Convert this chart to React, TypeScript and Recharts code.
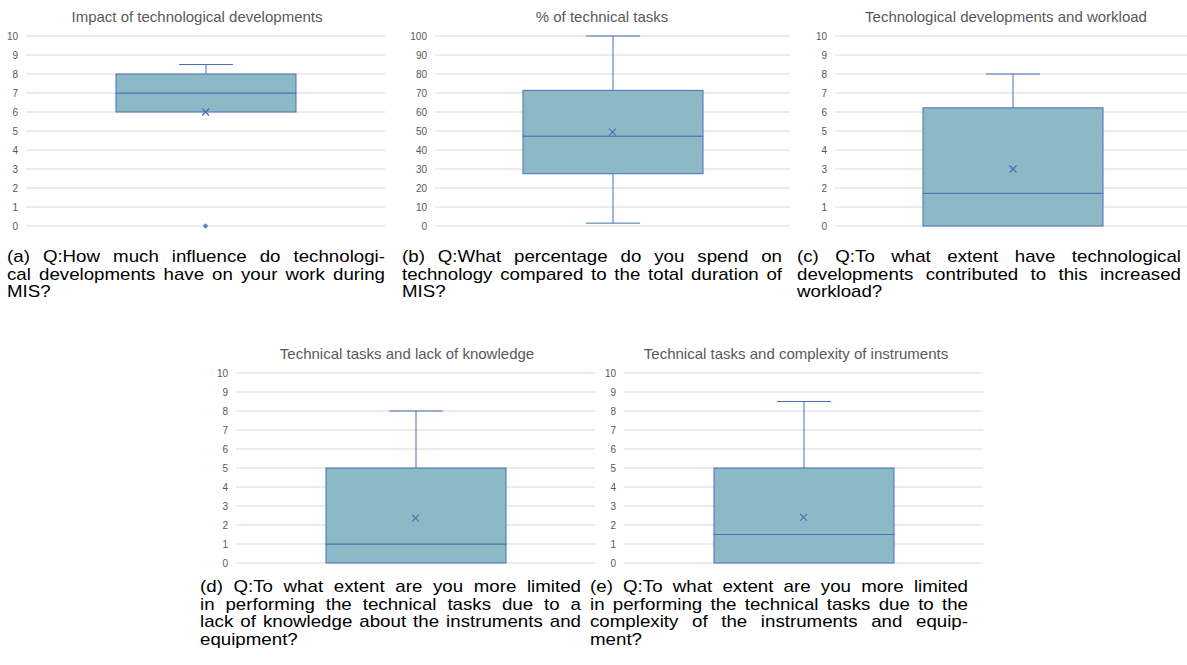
import React from 'react';
import { ComposedChart, Bar, Scatter, XAxis, YAxis, CartesianGrid } from 'recharts';

// ---------- data ----------
const chartTitles = [
  'Impact of technological developments',
  '% of technical tasks',
  'Technological developments and workload',
  'Technical tasks and lack of knowledge',
  'Technical tasks and complexity of instruments',
];
const minValues = [6, 1.5, 0, 0, 0];
const q1Values = [6, 27.5, 0, 0, 0];
const medianValues = [7, 47.3, 1.72, 1, 1.5];
const q3Values = [8, 71.4, 6.22, 5, 5];
const maxValues = [8.5, 100, 8, 8, 8.5];
const meanValues = [6, 49.4, 3, 2.36, 2.4];
const outlierValues: (number | null)[] = [0, null, null, null, null];
const ticks10 = [0, 1, 2, 3, 4, 5, 6, 7, 8, 9, 10];
const ticks100 = [0, 10, 20, 30, 40, 50, 60, 70, 80, 90, 100];
const tickSets = [ticks10, ticks100, ticks10, ticks10, ticks10];

const captionLines = [
  ['(a) Q:How much influence do technologi-', 'cal developments have on your work during', 'MIS?'],
  ['(b) Q:What percentage do you spend on', 'technology compared to the total duration of', 'MIS?'],
  ['(c) Q:To what extent have technological', 'developments contributed to this increased', 'workload?'],
  ['(d) Q:To what extent are you more limited', 'in performing the technical tasks due to a', 'lack of knowledge about the instruments and', 'equipment?'],
  ['(e) Q:To what extent are you more limited', 'in performing the technical tasks due to the', 'complexity of the instruments and equip-', 'ment?'],
];

// ---------- layout ----------
const panelLayout = [
  { plotLeft: 26, plotTop: 36, plotWidth: 359, titleX: 197, titleY: 17 },
  { plotLeft: 435, plotTop: 36, plotWidth: 355, titleX: 602, titleY: 17 },
  { plotLeft: 835, plotTop: 36, plotWidth: 356, titleX: 1006, titleY: 17 },
  { plotLeft: 236, plotTop: 373, plotWidth: 359, titleX: 407, titleY: 354 },
  { plotLeft: 624, plotTop: 373, plotWidth: 359, titleX: 796, titleY: 354 },
];
const captionLayout = [
  { left: 7, top: 248, width: 378 },
  { left: 402, top: 248, width: 380 },
  { left: 797, top: 248, width: 384 },
  { left: 200, top: 578, width: 381 },
  { left: 590, top: 578, width: 378 },
];

const PLOT_H = 190;
const Y_W = 26;
const M = 8;
const STROKE = '#4A6FB5';
const FILL = '#8BBAC6';
const TEXT = '#595959';
const CAP_SX = 1.1;

const BoxShape = (props: any) => {
  const { x, y, width, height } = props;
  if (height == null || height <= 0.01) return <g />;
  return <rect x={x} y={y} width={width} height={height} fill={FILL} stroke={STROKE} strokeWidth={1} />;
};

const LowWhisker = (props: any) => {
  const { x, y, width, height } = props;
  if (height == null || height <= 0.5) return <g />;
  const cx = x + width / 2;
  const cap = width * 0.15;
  return (
    <g stroke={STROKE} strokeWidth={1}>
      <line x1={cx} x2={cx} y1={y} y2={y + height} />
      <line x1={cx - cap} x2={cx + cap} y1={y + height} y2={y + height} />
    </g>
  );
};

const HighWhisker = (props: any) => {
  const { x, y, width, height } = props;
  if (height == null || height <= 0.5) return <g />;
  const cx = x + width / 2;
  const cap = width * 0.15;
  return (
    <g stroke={STROKE} strokeWidth={1}>
      <line x1={cx} x2={cx} y1={y} y2={y + height} />
      <line x1={cx - cap} x2={cx + cap} y1={y} y2={y} />
    </g>
  );
};

const MeanMark = (props: any) => {
  const { cx, cy } = props;
  if (cx == null || cy == null) return <g />;
  const s = 3.5;
  return (
    <g stroke={STROKE} strokeWidth={1.2}>
      <line x1={cx - s} y1={cy - s} x2={cx + s} y2={cy + s} />
      <line x1={cx - s} y1={cy + s} x2={cx + s} y2={cy - s} />
    </g>
  );
};

const OutlierMark = (props: any) => {
  const { cx, cy } = props;
  if (cx == null || cy == null) return <g />;
  return <circle cx={cx} cy={cy} r={2} fill="#5B7EC2" stroke="#7F9BD0" strokeWidth={0.8} />;
};

const BoxPanel = ({ i }: { i: number }) => {
  const L = panelLayout[i];
  const t = tickSets[i];
  const row = {
    name: chartTitles[i],
    base: minValues[i],
    lowW: q1Values[i] - minValues[i],
    boxLow: medianValues[i] - q1Values[i],
    boxHigh: q3Values[i] - medianValues[i],
    highW: maxValues[i] - q3Values[i],
    mean: meanValues[i],
    outlier: outlierValues[i],
  };
  const data = [row];
  return (
    <>
      <div
        style={{
          position: 'absolute',
          left: L.titleX - 200,
          width: 400,
          top: L.titleY - 9,
          height: 18,
          lineHeight: '18px',
          textAlign: 'center',
          fontFamily: '"Liberation Sans", Arial, sans-serif',
          fontSize: 15,
          color: TEXT,
          whiteSpace: 'nowrap',
        }}
      >
        {chartTitles[i]}
      </div>
      <div style={{ position: 'absolute', left: L.plotLeft - Y_W, top: L.plotTop - M }}>
        <ComposedChart
          width={Y_W + L.plotWidth}
          height={PLOT_H + 2 * M}
          data={data}
          margin={{ top: M, bottom: M, left: 0, right: 0 }}
        >
          <CartesianGrid vertical={false} stroke="#D9D9D9" />
          <XAxis dataKey="name" hide />
          <YAxis
            width={Y_W}
            domain={[0, t[t.length - 1]]}
            ticks={t}
            interval={0}
            axisLine={false}
            tickLine={false}
            tick={{ fill: TEXT, fontSize: 10, fontFamily: '"Liberation Sans", Arial, sans-serif' }}
          />
          <Bar dataKey="base" stackId="s" fill="transparent" barSize={180} isAnimationActive={false} />
          <Bar dataKey="lowW" stackId="s" barSize={180} shape={LowWhisker} isAnimationActive={false} />
          <Bar dataKey="boxLow" stackId="s" barSize={180} shape={BoxShape} isAnimationActive={false} />
          <Bar dataKey="boxHigh" stackId="s" barSize={180} shape={BoxShape} isAnimationActive={false} />
          <Bar dataKey="highW" stackId="s" barSize={180} shape={HighWhisker} isAnimationActive={false} />
          <Scatter dataKey="mean" shape={MeanMark} isAnimationActive={false} />
          {outlierValues[i] != null && (
            <Scatter dataKey="outlier" shape={OutlierMark} isAnimationActive={false} />
          )}
        </ComposedChart>
      </div>
    </>
  );
};

const Caption = ({ i }: { i: number }) => {
  const C = captionLayout[i];
  const lines = captionLines[i];
  return (
    <div
      style={{
        position: 'absolute',
        left: C.left,
        top: C.top,
        width: C.width / CAP_SX,
        transform: `scaleX(${CAP_SX})`,
        transformOrigin: '0 0',
        fontFamily: '"Liberation Sans", Arial, sans-serif',
        fontSize: 17,
        lineHeight: '17.5px',
        color: '#000',
      }}
    >
      {lines.map((ln, k) => (
        <div
          key={k}
          style={{
            textAlign: k < lines.length - 1 ? 'justify' : 'left',
            textAlignLast: k < lines.length - 1 ? 'justify' : 'left',
            whiteSpace: 'nowrap',
          }}
        >
          {ln}
        </div>
      ))}
    </div>
  );
};

export default function App() {
  return (
    <div
      style={{
        position: 'absolute',
        left: 0,
        top: 0,
        width: 1187,
        height: 665,
        overflow: 'hidden',
        background: '#fff',
      }}
    >
      {[0, 1, 2, 3, 4].map((i) => (
        <React.Fragment key={i}>
          <BoxPanel i={i} />
          <Caption i={i} />
        </React.Fragment>
      ))}
    </div>
  );
}
